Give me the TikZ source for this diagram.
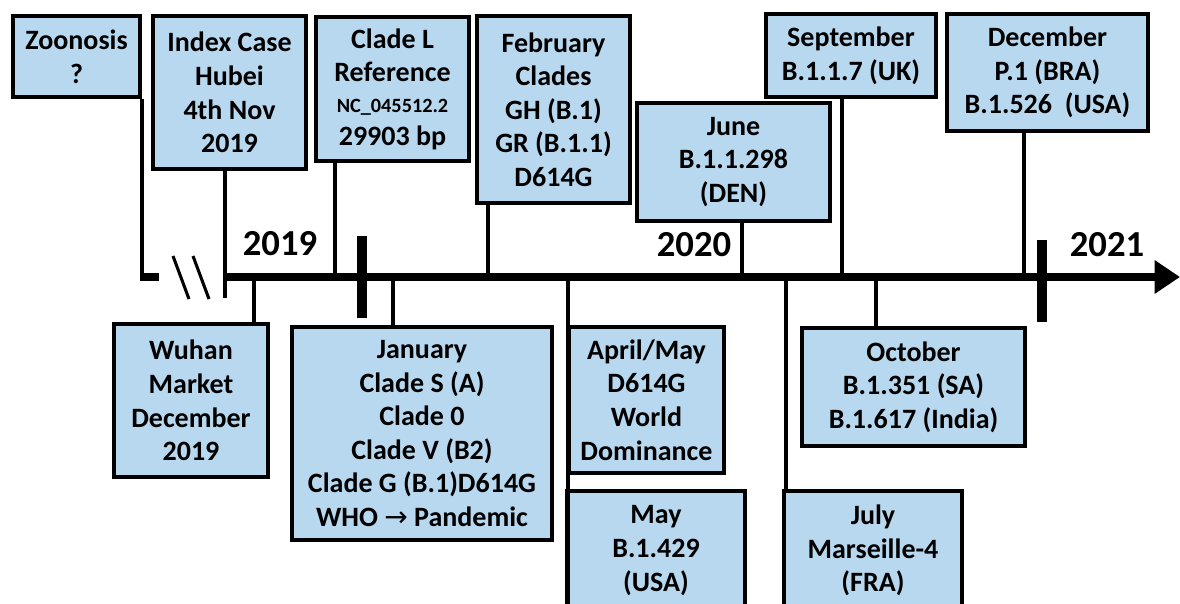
\documentclass[tikz,border=0pt]{standalone}
\usepackage{fontspec}
\setmainfont{Carlito}
\newfontfamily\symfont{DejaVu Sans}
\usetikzlibrary{arrows.meta,calc}
\definecolor{boxblue}{RGB}{183,216,238}

\begin{document}
\begin{tikzpicture}[x=0.75pt,y=-0.75pt,>=Latex,font=\bfseries\fontsize{21}{25.2}\selectfont,
    evt/.style={draw,fill=boxblue,line width=2.6pt,align=center,inner sep=0pt},
    sz/.style 2 args={minimum width=#1*0.75pt,minimum height=#2*0.75pt},
    stem/.style={line width=3pt},
    axisline/.style={line width=6.5pt},
    tick/.style={line width=7.5pt},
    yr/.style={font=\bfseries\fontsize{27.5}{30}\selectfont}]
  \useasboundingbox (0,0) rectangle (1180,603);
  \clip (0,0) rectangle (1180,603);
  % --- points on the time axis ---
  \coordinate (start) at (223,277);
  \coordinate (tip)   at (1180,277);
  \coordinate (aZoo)  at (142,281);
  \coordinate (zStub) at (159,277);
  \coordinate (aIndex) at (225,298);
  \coordinate (aCladeL) at (335,277);
  \coordinate (aFeb)  at (488,277);
  \coordinate (aJune) at (742,277);
  \coordinate (aSept) at (842,277);
  \coordinate (aDec)  at (1024,277);
  \coordinate (aWuhan) at (254,277);
  \coordinate (aJan)  at (393,277);
  \coordinate (aApr)  at (568,277);
  \coordinate (aprEnd) at (568,610);
  \coordinate (aJuly) at (786,277);
  \coordinate (aOct)  at (876,277);
  % --- events above the axis ---
  \node[evt,sz={127}{81}]  (zoo)    at (76.5,56.5)  {Zoonosis\\?};
  \node[evt,sz={153}{153}] (index)  at (229.5,92.5) {Index Case\\Hubei\\4th Nov\\2019};
  \node[evt,sz={153}{144}] (cladeL) at (392.5,89)   {Clade L\\Reference\\[-2pt]{\fontsize{15.2}{18}\selectfont NC\_045512.2}\\[-1pt]29903 bp};
  \node[evt,sz={153}{187}] (feb)    at (553.5,109.5) {February\\Clades\\GH (B.1)\\GR (B.1.1)\\D614G};
  \node[evt,sz={193}{118}] (june)   at (733.5,162)  {June\\B.1.1.298\\(DEN)};
  \node[evt,sz={170}{83}]  (sept)   at (851,55.5)   {September\\B.1.1.7 (UK)};
  \node[evt,sz={201}{117}] (dec)    at (1047.5,72.5) {December\\P.1 (BRA)\\B.1.526\ \ (USA)};
  % --- events below the axis ---
  \node[evt,sz={154}{153}] (wuhan)  at (191,400.5)  {Wuhan\\Market\\December\\2019};
  \node[evt,sz={260}{213}] (jan)    at (422,433.5)  {January\\Clade S (A)\\Clade 0\\Clade V (B2)\\Clade G (B.1)D614G\\WHO {\symfont\mdseries →} Pandemic};
  \node[evt,sz={155}{146}] (april)  at (646.5,400)  {April/May\\D614G\\World\\Dominance};
  \node[evt,sz={178}{119}] (may)    at (656,550.5)  {May\\B.1.429\\(USA)};
  \node[evt,sz={178}{119}] (july)   at (873,550.5)  {July\\Marseille-4\\(FRA)};
  \node[evt,sz={223}{118}] (oct)    at (913.5,387)  {October\\B.1.351 (SA)\\B.1.617 (India)};
  % --- connectors ---
  \draw[stem] (aZoo |- zoo.south) -- (aZoo);
  \draw[axisline] ($(aZoo)+(-2,-4)$) -- (zStub);
  \draw[stem] (aIndex |- index.south) -- (aIndex);
  \draw[stem] (aCladeL |- cladeL.south) -- (aCladeL);
  \draw[stem] (aFeb |- feb.south) -- (aFeb);
  \draw[stem] (aJune |- june.south) -- (aJune);
  \draw[stem] (aSept |- sept.south) -- (aSept);
  \draw[stem] (aDec |- dec.south) -- (aDec);
  \draw[stem] (aWuhan) -- (aWuhan |- wuhan.north);
  \draw[stem] (aJan) -- (aJan |- jan.north);
  \draw[stem] (aApr) -- (aprEnd);
  \draw[stem] (aJuly) -- (aJuly |- july.north);
  \draw[stem] (aOct) -- (aOct |- oct.north);
  % --- axis, break and year ticks ---
  \draw[axisline,-{Triangle[length=19pt,width=24pt]}] (start) -- (tip);
  \draw[line width=2.3pt] (173,256) -- (189,299) (193,256) -- (209,299);
  \draw[tick] (362,236) -- (362,318);
  \draw[tick] (1042,240) -- (1042,322);
  \node[yr] (y2019) at (280,244) {2019};
  \node[yr] (y2020) at (694,245) {2020};
  \node[yr] (y2021) at (1107,245) {2021};
\end{tikzpicture}
\end{document}
